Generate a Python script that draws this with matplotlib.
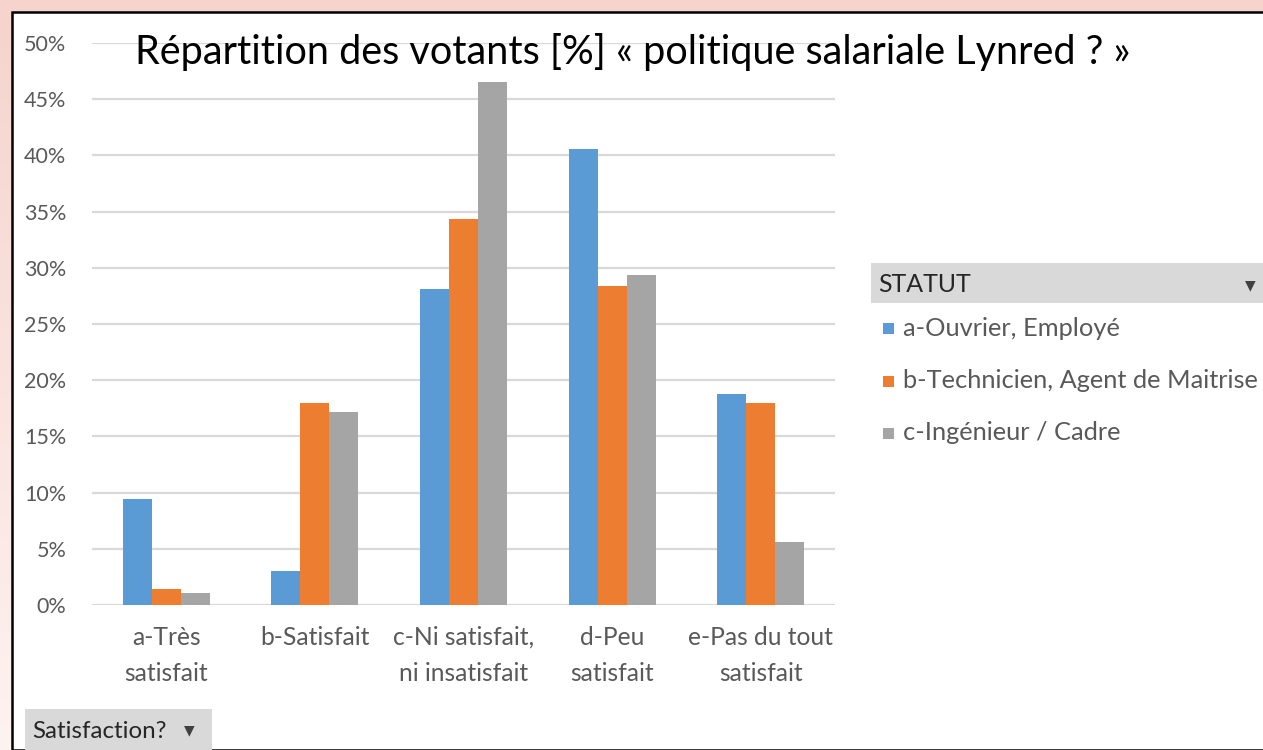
import numpy as np
import matplotlib
matplotlib.use("Agg")
import matplotlib.pyplot as plt
from matplotlib.patches import Rectangle

# Data (in %)
categories = ["a-Très\nsatisfait", "b-Satisfait", "c-Ni satisfait,\nni insatisfait",
              "d-Peu\nsatisfait", "e-Pas du tout\nsatisfait"]
series_names = ["a-Ouvrier, Employé", "b-Technicien, Agent de Maitrise", "c-Ingénieur / Cadre"]
ouvrier = [9.4, 3.0, 28.1, 40.6, 18.8]
technicien = [1.4, 18.0, 34.3, 28.4, 18.0]
ingenieur = [1.05, 17.2, 46.5, 29.4, 5.6]
colors = ["#5b9bd5", "#ed7d31", "#a5a5a5"]
yticks = [0, 5, 10, 15, 20, 25, 30, 35, 40, 45, 50]

W, H = 1263, 750
plt.rcParams["font.family"] = ["Lato", "DejaVu Sans"]


def px(x, y):
    # pixel position (from top-left) -> figure fraction
    return x / W, 1 - y / H


fig = plt.figure(figsize=(W / 100, H / 100), dpi=100)

# pink gradient background behind the chart frame
bg = fig.add_axes([0, 0, 1, 1], zorder=-10)
grad = np.linspace(0, 1, 256).reshape(-1, 1)
bg.imshow(grad, cmap=matplotlib.colors.LinearSegmentedColormap.from_list(
    "pk", ["#f6d3cc", "#fdf3f1"]), aspect="auto", extent=[0, 1, 0, 1])
bg.axis("off")

# white chart area with black frame
x0, y0 = px(12, 750)
fig.patches.append(Rectangle((x0, y0), 1.5, (750 - 12) / H, transform=fig.transFigure,
                             facecolor="white", edgecolor="black", lw=1.8, zorder=-5))

l, b = px(92, 605)
r, t = px(835, 43)
ax = fig.add_axes([l, b, r - l, t - b])
ax.set_facecolor("none")

x = np.arange(len(categories))
w = 0.195
for i, vals in enumerate([ouvrier, technicien, ingenieur]):
    ax.bar(x + (i - 1) * w, vals, width=w, color=colors[i], zorder=3)

ax.set_xlim(-0.5, len(categories) - 0.5)
ax.set_ylim(0, 50)
ax.set_yticks(yticks)
ax.set_yticklabels([f"{v}%" for v in yticks])
ax.set_xticks(x)
ax.set_xticklabels(categories, linespacing=1.7)
ax.yaxis.grid(True, color="#d9d9d9", lw=1.6, zorder=0)
ax.tick_params(axis="both", length=0, colors="#595959")
ax.tick_params(axis="y", pad=18.5, labelsize=15.5)
ax.tick_params(axis="x", pad=15, labelsize=17.7)
for s in ax.spines.values():
    s.set_visible(False)

# title
fig.text(*px(135, 52), "Répartition des votants [%] « politique salariale Lynred ? »",
         fontsize=28.5, color="black", va="center", ha="left")

# legend (pivot-chart style)
hx, hy = px(871, 303)
fig.patches.append(Rectangle((hx, hy), (1263 - 871) / W, 40 / H, transform=fig.transFigure,
                             facecolor="#d9d9d9", edgecolor="none"))
fig.text(*px(878, 284), "STATUT", fontsize=17.9, color="#262626", va="center", ha="left")
fig.text(*px(1250, 285), "▼", fontsize=10, color="#404040", va="center", ha="center",
         family="DejaVu Sans")
for i, name in enumerate(series_names):
    yy = 328 + i * 52.5
    sx, sy = px(883, yy + 6)
    fig.patches.append(Rectangle((sx, sy), 11 / W, 11 / H, transform=fig.transFigure,
                                 facecolor=colors[i], edgecolor="none"))
    fig.text(*px(903, yy), name, fontsize=18.3, color="#595959", va="center", ha="left")

# "Satisfaction?" field button
bx, by = px(25, 750)
fig.patches.append(Rectangle((bx, by), (212 - 25) / W, 41 / H, transform=fig.transFigure,
                             facecolor="#d9d9d9", edgecolor="none"))
fig.text(*px(32, 731), "Satisfaction?", fontsize=17.4, color="#262626", va="center", ha="left")
fig.text(*px(189, 730), "▼", fontsize=10, color="#404040", va="center", ha="center",
         family="DejaVu Sans")

fig.savefig("out.png", dpi=100)
